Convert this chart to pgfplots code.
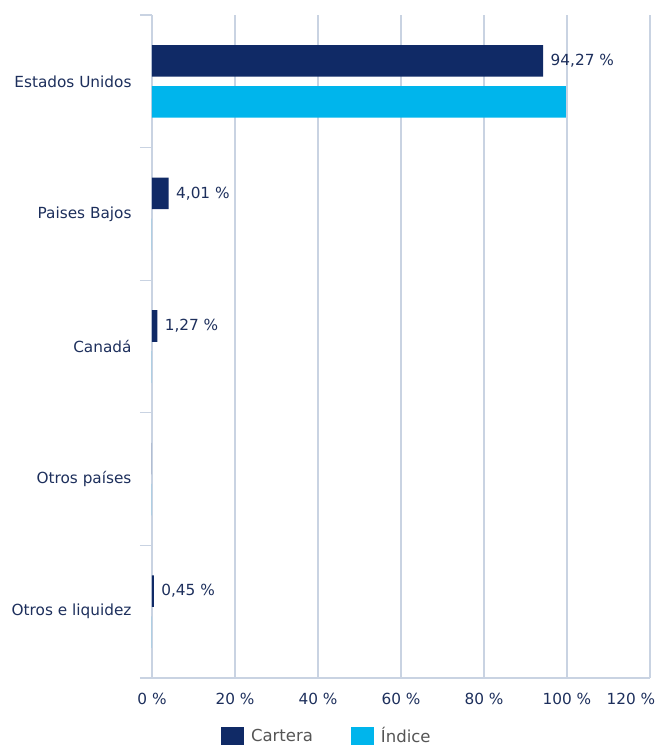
\documentclass[border=0pt]{standalone}
\usepackage{pgfplots}
\pgfplotsset{compat=1.18}
\usepackage{pgfplotstable}
\usepackage{fontspec}
\setmainfont{DejaVu Sans}
\definecolor{navy}{HTML}{102A66}
\definecolor{cyanb}{HTML}{00B5EC}
\definecolor{txt}{HTML}{1D2F5C}
\definecolor{gridc}{HTML}{C9D3E2}
\definecolor{legtxt}{HTML}{555555}

\pgfplotstableread[col sep=semicolon]{
pos;cartera;lab
4;94.27;94,27 \%
3;4.01;4,01 \%
2;1.27;1,27 \%
1;0;{}
0;0.45;0,45 \%
}\carteratbl

\pgfplotstableread[col sep=semicolon]{
pos;indice
4;99.7
3;0
2;0
1;0
0;0
}\indicetbl

\newcommand{\lblfont}{\fontsize{15.3bp}{18bp}\selectfont}
\newcommand{\legfont}{\fontsize{16.5bp}{19bp}\selectfont}

\begin{document}
\begin{tikzpicture}
\useasboundingbox (-152bp,-69bp) rectangle (503bp,678bp);
\begin{axis}[
 at={(0,0)}, anchor=south west,
 scale only axis, width=498bp, height=663bp,
 xbar, bar width=0.2376,
 xmin=0, xmax=120, ymin=-0.5, ymax=4.5,
 axis lines*=left,
 axis line style={gridc, line width=1.8bp},
 xtick={0,20,...,120},
 xticklabels={0 \%,20 \%,40 \%,60 \%,80 \%,100 \%,\hspace*{-38bp}120 \%},
 xmajorgrids, grid style={gridc, line width=1.2bp},
 ytick={0,1,2,3,4},
 yticklabels={Otros e liquidez, Otros países, Canadá, Paises Bajos, Estados Unidos},
 minor ytick={-0.5,0.5,...,4.5},
 major tick length=0pt, minor tick length=12bp, tick align=outside,
 minor tick style={gridc, line width=1.2bp},
 ticklabel style={font=\lblfont, text=txt},
 yticklabel style={xshift=-17bp},
 xticklabel style={yshift=-12bp},
 legend style={at={(0.351,-0.0875)}, anchor=center, draw=none, fill=none,
   legend columns=2, font=\legfont, text=legtxt,
   /tikz/every even column/.append style={column sep=36bp}},
]
\addplot[fill=navy, draw=none, bar shift=0.1546,
  nodes near coords, point meta=explicit symbolic,
  nodes near coords style={anchor=west, text=txt, font=\lblfont, xshift=4bp},
  legend image code/.code={\fill[navy] (0bp,-9bp) rectangle (23bp,9bp);}]
  table[x=cartera, y=pos, meta=lab]{\carteratbl};
\addplot[fill=cyanb, draw=none, bar shift=-0.1546,
  legend image code/.code={\fill[cyanb] (0bp,-9bp) rectangle (23bp,9bp);}]
  table[x=indice, y=pos]{\indicetbl};
\legend{\hspace*{5bp}Cartera, \hspace*{5bp}Índice}
\end{axis}
\end{tikzpicture}
\end{document}
